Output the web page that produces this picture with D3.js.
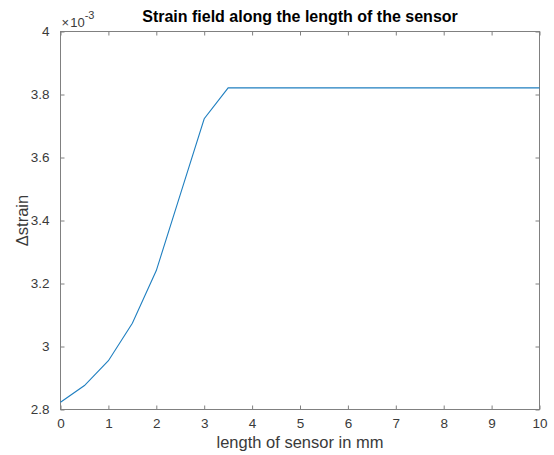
<!DOCTYPE html>
<html>
<head>
<meta charset="utf-8">
<script src="https://cdn.jsdelivr.net/npm/d3@7"></script>
<style>
  body { margin: 0; background: #fff; }
  text { font-family: "Liberation Sans", Arial, sans-serif; }
</style>
</head>
<body>
<div id="chart"></div>
<script>
// sensor position (mm) and strain (x 1e-3)
const positions = [0, 0.5, 1, 1.5, 2, 2.5, 3, 3.5, 4, 4.5, 5, 5.5, 6, 6.5, 7, 7.5, 8, 8.5, 9, 9.5, 10];
const strain = [2.823, 2.876, 2.955, 3.074, 3.241, 3.482, 3.723, 3.821, 3.821, 3.821, 3.821,
                3.821, 3.821, 3.821, 3.821, 3.821, 3.821, 3.821, 3.821, 3.821, 3.821];
const xTicks = [0, 1, 2, 3, 4, 5, 6, 7, 8, 9, 10];
const yTicks = [2.8, 3, 3.2, 3.4, 3.6, 3.8, 4];

const data = positions.map((p, i) => ({ x: p, y: strain[i] }));

const W = 554, H = 455;
const margin = { top: 31.5, right: 14.5, bottom: 45.5, left: 60.5 };
const iw = W - margin.left - margin.right;
const ih = H - margin.top - margin.bottom;

const svg = d3.select("#chart").append("svg")
    .attr("width", W)
    .attr("height", H);

const g = svg.append("g")
    .attr("transform", `translate(${margin.left},${margin.top})`);

const x = d3.scaleLinear().domain([0, 10]).range([0, iw]);
const y = d3.scaleLinear().domain([2.8, 4]).range([ih, 0]);

const axisColor = "#808080";
const textColor = "#3a3a3a";

// axes, MATLAB style: ticks pointing inward
const fmt = d => d3.format("~g")(d);
const styleAxis = sel => {
    sel.select(".domain").remove();
    sel.selectAll("line").attr("stroke", axisColor);
    sel.selectAll("text").attr("fill", textColor).style("font-size", "13.5px");
};

g.append("g")
    .attr("transform", `translate(0,${ih})`)
    .call(d3.axisBottom(x).tickValues(xTicks).tickFormat(fmt).tickSizeInner(-4).tickPadding(9))
    .call(styleAxis);

g.append("g")
    .call(d3.axisTop(x).tickValues(xTicks).tickFormat("").tickSizeInner(-4))
    .call(styleAxis);

g.append("g")
    .call(d3.axisLeft(y).tickValues(yTicks).tickFormat(fmt).tickSizeInner(-4).tickPadding(11))
    .call(styleAxis);

g.append("g")
    .attr("transform", `translate(${iw},0)`)
    .call(d3.axisRight(y).tickValues(yTicks).tickFormat("").tickSizeInner(-4))
    .call(styleAxis);

// box
g.append("rect")
    .attr("width", iw)
    .attr("height", ih)
    .attr("fill", "none")
    .attr("stroke", axisColor)
    .attr("stroke-width", 1);

// the strain line
const line = d3.line().x(d => x(d.x)).y(d => y(d.y));
g.append("path")
    .datum(data)
    .attr("d", line)
    .attr("fill", "none")
    .attr("stroke", "#1f7fc0")
    .attr("stroke-width", 1.1);

// exponent label
const ex = svg.append("text")
    .attr("x", margin.left + 1)
    .attr("y", 27)
    .attr("fill", textColor)
    .style("font-size", "13px");
ex.append("tspan").text("\u00d7\u200a10");
ex.append("tspan").attr("dy", -8).style("font-size", "11px").text("-3");

// title
svg.append("text")
    .attr("x", margin.left + iw / 2)
    .attr("y", 22)
    .attr("text-anchor", "middle")
    .attr("fill", "#000")
    .style("font-size", "16px")
    .style("font-weight", "bold")
    .text("Strain field along the length of the sensor");

// axis labels
svg.append("text")
    .attr("x", margin.left + iw / 2)
    .attr("y", 448)
    .attr("text-anchor", "middle")
    .attr("fill", textColor)
    .style("font-size", "16.5px")
    .text("length of sensor in mm");

svg.append("text")
    .attr("transform", `translate(28,${margin.top + ih / 2}) rotate(-90)`)
    .attr("text-anchor", "middle")
    .attr("fill", textColor)
    .style("font-size", "16.5px")
    .text("\u0394strain");
</script>
</body>
</html>
